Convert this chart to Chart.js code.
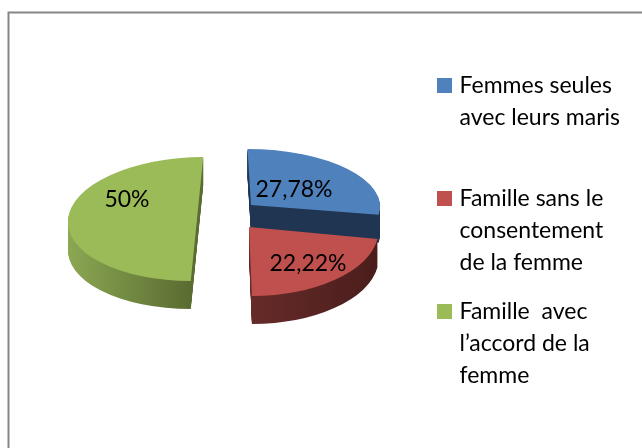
<!DOCTYPE html>
<html>
<head>
<meta charset="utf-8">
<style>
  html, body { margin: 0; padding: 0; background: #fff; overflow: hidden; }
  #box { position: absolute; left: 0; top: 0; width: 642px; height: 448px; }
</style>
</head>
<body>
<div id="box"><canvas id="chartParts" width="642" height="448"></canvas></div>
<script src="https://cdn.jsdelivr.net/npm/chart.js@4/dist/chart.umd.min.js"></script>
<script>
var categories = [
  ["Femmes seules", "avec leurs maris", ""],
  ["Famille sans le", "consentement", "de la femme"],
  ["Famille  avec", "l\u2019accord de la", "femme"]
];
var parts = [27.78, 22.22, 50];
var partLabels = ["27,78%", "22,22%", "50%"];

var topColors = ["#4f81bd", "#c0504d", "#9bbb59"];
var sideFrom = ["#1f3552", "#662b29", "#8ca853"];
var sideTo = ["#1f3552", "#491d1b", "#5a6c31"];

// where each exploded slice sits on the page (the pie is tilted, near slices look taller)
var sliceLook = [
  { cx: 251, cy: 205, rx: 129, ry: 56, shear: 0.018 },
  { cx: 249, cy: 227, rx: 130, ry: 69, shear: 0.015 },
  { cx: 197, cy: 219, rx: 129, ry: 62, shear: -0.032 }
];
var labelPos = [[294, 190], [308, 264], [127, 200]];
var depth = 28;

function placeSlice(ctx, arc, look, down) {
  var k = look.rx / arc.outerRadius;
  ctx.translate(look.cx, look.cy + down);
  ctx.transform(k, 0, look.shear, look.ry / arc.outerRadius, 0, 0);
  ctx.translate(-arc.x, -arc.y);
}

var pie3d = {
  id: "pie3d",
  beforeDraw: function (chart) {
    var ctx = chart.ctx;
    ctx.save();
    ctx.strokeStyle = "#868686";
    ctx.lineWidth = 2;
    ctx.beginPath();
    ctx.moveTo(8.5, 460);
    ctx.lineTo(8.5, 12.5);
    ctx.lineTo(660, 12.5);
    ctx.stroke();
    ctx.restore();
  },
  beforeDatasetDraw: function (chart) {
    var ctx = chart.ctx;
    var arcs = chart.getDatasetMeta(0).data;
    arcs.forEach(function (arc, i) {
      var look = sliceLook[i];
      var orig = arc.options;
      var r = arc.outerRadius;
      var side = ctx.createLinearGradient(i == 2 ? arc.x - r : arc.x, 0, i == 2 ? arc.x : arc.x + r, 0);
      side.addColorStop(0, sideFrom[i]);
      side.addColorStop(1, sideTo[i]);
      arc.options = Object.assign({}, orig, { backgroundColor: side });
      for (var d = depth; d > 0; d--) {
        ctx.save();
        placeSlice(ctx, arc, look, d);
        arc.draw(ctx);
        ctx.restore();
      }
      arc.options = orig;
      ctx.save();
      placeSlice(ctx, arc, look, 0);
      arc.draw(ctx);
      ctx.restore();
    });
    return false;
  },
  afterDatasetsDraw: function (chart) {
    var ctx = chart.ctx;
    ctx.save();
    ctx.fillStyle = "#000";
    ctx.font = "23px Lato";
    ctx.textAlign = "center";
    ctx.textBaseline = "middle";
    partLabels.forEach(function (t, i) {
      ctx.fillText(t, labelPos[i][0], labelPos[i][1]);
    });
    ctx.restore();
  }
};

var ctx = document.getElementById("chartParts");
var myPie = new Chart(ctx, {
  type: "pie",
  plugins: [pie3d],
  data: {
    labels: categories,
    datasets: [{
      data: parts,
      backgroundColor: topColors,
      borderWidth: 0
    }]
  },
  options: {
    responsive: false,
    animation: false,
    events: [],
    layout: { padding: { top: 57, right: 12 } },
    plugins: {
      tooltip: { enabled: false },
      legend: {
        position: "right",
        align: "start",
        labels: {
          color: "#000",
          font: { family: "Lato", size: 23, lineHeight: 32 / 23 },
          boxWidth: 7,
          boxHeight: 7,
          padding: 17,
          generateLabels: function () {
            return categories.map(function (c, i) {
              return {
                text: c,
                fillStyle: topColors[i],
                strokeStyle: topColors[i],
                lineWidth: 8,
                index: i
              };
            });
          }
        }
      }
    }
  }
});
</script>
</body>
</html>
